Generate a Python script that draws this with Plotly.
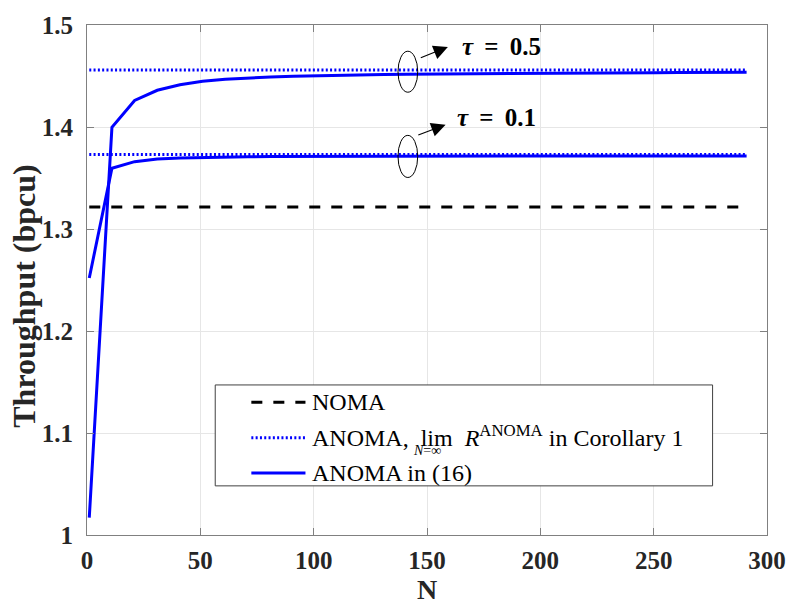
import plotly.graph_objects as go

# ---------------- data ----------------
N = [1, 11, 21, 31, 41, 51, 61, 71, 81, 91, 101, 111, 121, 131, 141,
     151, 161, 171, 181, 191, 201, 211, 221, 231, 241, 251, 261, 271, 281, 291]

anoma_tau05 = [1.017, 1.3997, 1.4260, 1.4360, 1.4415, 1.4448, 1.4468, 1.4481,
               1.4490, 1.4497, 1.4503, 1.4507, 1.4511, 1.4514, 1.4517, 1.4519,
               1.4521, 1.4523, 1.4525, 1.4526, 1.4528, 1.4529, 1.4530, 1.4531,
               1.4532, 1.4533, 1.4534, 1.4535, 1.4536, 1.4537]

anoma_tau01 = [1.252, 1.3595, 1.3660, 1.3686, 1.3697, 1.3703, 1.3706, 1.3708,
               1.3710, 1.3711, 1.3712, 1.3712, 1.3713, 1.3713, 1.3714, 1.3714,
               1.3714, 1.3715, 1.3715, 1.3715, 1.3715, 1.3716, 1.3716, 1.3716,
               1.3716, 1.3716, 1.3716, 1.3716, 1.3716, 1.3716]

noma_value = 1.3216
lim_tau05 = 1.456
lim_tau01 = 1.373
N_span = [1, 291]

x_ticks = [0, 50, 100, 150, 200, 250, 300]
y_ticks = [1, 1.1, 1.2, 1.3, 1.4, 1.5]

# ---------------- styling ----------------
SERIF = "Liberation Serif, Times New Roman, serif"
BLUE = "#0000ff"
DOT = "2px,2.3px"
DASH = "11px,11px"

fig = go.Figure()

fig.add_trace(go.Scatter(x=N_span, y=[noma_value, noma_value], mode="lines",
                         line=dict(color="black", width=3, dash=DASH),
                         showlegend=False))
for v in (lim_tau05, lim_tau01):
    fig.add_trace(go.Scatter(x=N_span, y=[v, v], mode="lines",
                             line=dict(color=BLUE, width=3, dash=DOT),
                             showlegend=False))
for ys in (anoma_tau05, anoma_tau01):
    fig.add_trace(go.Scatter(x=N, y=ys, mode="lines",
                             line=dict(color=BLUE, width=3),
                             showlegend=False))

axis_common = dict(
    showline=True, linecolor="#808080", linewidth=1, mirror="ticks",
    ticks="inside", ticklen=7, tickcolor="#808080",
    showgrid=True, gridcolor="#e6e6e6", gridwidth=1, zeroline=False,
    tickfont=dict(family=SERIF, size=25, color="#262626", weight="bold"),
)

fig.update_xaxes(range=[0, 300], tickvals=x_ticks, ticklabelstandoff=3, **axis_common)
fig.update_yaxes(range=[1, 1.5], tickvals=y_ticks, ticklabelstandoff=8, **axis_common)

shapes = []
annotations = []

# axis titles
annotations.append(dict(xref="paper", yref="paper", x=0.5, y=-0.106,
                        text="<b>N</b>", showarrow=False, xanchor="center", yanchor="middle",
                        font=dict(family=SERIF, size=28, color="#262626")))
annotations.append(dict(xref="paper", yref="paper", x=-0.092, y=0.47,
                        text="<b>Throughput (bpcu)</b>", showarrow=False, textangle=-90,
                        xanchor="center", yanchor="middle",
                        font=dict(family=SERIF, size=32, color="#262626")))

# ellipses + arrows + labels
for (y0, y1, tip, tail, lab_xy, lab) in [
        (1.4341, 1.4743, (159.2, 1.4785), (146.6, 1.4672), (164.7, 1.4785), "0.5"),
        (1.3505, 1.3918, (158.2, 1.4023), (145.5, 1.3917), (162.5, 1.4094), "0.1")]:
    shapes.append(dict(type="circle", xref="x", yref="y", x0=137.2, x1=145.9,
                       y0=y0, y1=y1, line=dict(color="black", width=1)))
    annotations.append(dict(xref="x", yref="y", x=tip[0], y=tip[1],
                            axref="x", ayref="y", ax=tail[0], ay=tail[1],
                            text="", showarrow=True, arrowhead=2, arrowsize=2.6,
                            arrowwidth=1.1, arrowcolor="black"))
    annotations.append(dict(xref="x", yref="y", x=lab_xy[0], y=lab_xy[1],
                            text="<b><i>\u03c4</i> \u2009=\u2009 " + lab + "</b>",
                            showarrow=False, xanchor="left", yanchor="middle",
                            font=dict(family=SERIF, size=25, color="black")))

# custom legend (plot area: x 87..778 px, y 16..535 px)
def px(xp):
    return (xp - 87.0) / 691.0

def py(yp):
    return (535.0 - yp) / 519.0

shapes.append(dict(type="rect", xref="paper", yref="paper", x0=px(217.3), x1=px(722.7),
                   y0=py(485), y1=py(382.3), line=dict(color="#404040", width=1),
                   fillcolor="white", layer="above"))
rows = [(400, "black", DASH), (436, BLUE, DOT), (472, BLUE, "solid")]
for yp, col, dash in rows:
    shapes.append(dict(type="line", xref="paper", yref="paper", x0=px(254), x1=px(309),
                       y0=py(yp), y1=py(yp), line=dict(color=col, width=3, dash=dash),
                       layer="above"))

LEG_FONT = dict(family=SERIF, size=24, color="black")
annotations.append(dict(xref="paper", yref="paper", x=px(314), y=py(400), text="NOMA",
                        showarrow=False, xanchor="left", yanchor="middle", font=LEG_FONT))
annotations.append(dict(xref="paper", yref="paper", x=px(314), y=py(434),
                        text="ANOMA,\u2002lim\u2002<i>R</i><sup>ANOMA</sup> in Corollary 1",
                        showarrow=False, xanchor="left", yanchor="middle", font=LEG_FONT))
annotations.append(dict(xref="paper", yref="paper", x=px(433), y=py(449),
                        text="<i>N</i>=\u221e", showarrow=False, xanchor="center",
                        yanchor="middle", font=dict(family=SERIF, size=14, color="black")))
annotations.append(dict(xref="paper", yref="paper", x=px(314), y=py(471.7),
                        text="ANOMA in (16)", showarrow=False, xanchor="left",
                        yanchor="middle", font=LEG_FONT))

fig.update_layout(
    width=798, height=605,
    margin=dict(l=87, r=20, t=16, b=70, pad=0),
    plot_bgcolor="white", paper_bgcolor="white",
    shapes=shapes, annotations=annotations, showlegend=False,
)

fig.write_html("out.html")
